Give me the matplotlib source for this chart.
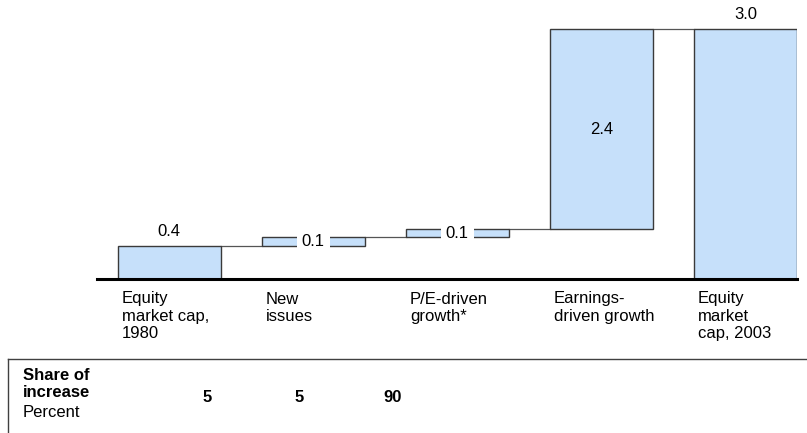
import numpy as np
import matplotlib
matplotlib.use("Agg")
from matplotlib import pyplot as plt

plt.rcParams["font.family"] = ["Liberation Sans", "DejaVu Sans"]

# ====================================================
# Data
# ====================================================
categories = ["Equity\nmarket cap,\n1980", "New\nissues", "P/E-driven\ngrowth*",
              "Earnings-\ndriven growth", "Equity\nmarket\ncap, 2003"]
steps = [0.4, 0.1, 0.1, 2.4]
total = 3.0
share_labels = ["5", "5", "90"]

# ====================================================
# Figure setup (pixel-based layout)
# ====================================================
W, H = 807, 433
fig = plt.figure(figsize=(W / 100, H / 100), dpi=100)

base_px = 279      # baseline, px from top
left_px, right_px = 97, 797
ax = fig.add_axes([left_px / W, (H - base_px) / H, (right_px - left_px) / W, base_px / H])

fill = "#c6e0fa"
edge = "#3a3a3a"
width = 0.715

# waterfall bottoms / heights
bottoms = [0.0]
for v in steps[:-1]:
    bottoms.append(bottoms[-1] + v)
bottoms = bottoms[:len(steps)]
heights = list(steps)
bottoms.append(0.0)
heights.append(total)
x = np.arange(len(categories))

ax.bar(x, heights, bottom=bottoms, width=width, color=fill, edgecolor=edge,
       linewidth=1.0, align="center", zorder=2)

# connectors
tops = [b + h for b, h in zip(bottoms, heights)]
for i in range(len(x) - 1):
    ax.plot([x[i] + width / 2, x[i + 1] - width / 2], [tops[i], tops[i]],
            color="#555555", lw=0.9, zorder=1)

# value labels
for i, (b, h) in enumerate(zip(bottoms, heights)):
    lbl = f"{h:.1f}"
    if i == 0 or i == len(x) - 1:
        ax.annotate(lbl, (x[i], b + h), xytext=(0, 5), textcoords="offset points",
                    ha="center", va="bottom", fontsize=12)
    elif h < 0.3:
        ax.text(x[i], b + h / 2, lbl, ha="center", va="center", fontsize=12, zorder=3,
                bbox=dict(boxstyle="square,pad=0.3", fc="white", ec="none"))
    else:
        ax.text(x[i], b + h / 2, lbl, ha="center", va="center", fontsize=12, zorder=3)

ax.set_xlim(-0.5, 4.358)
ax.set_ylim(0, 3.35)
ax.axis("off")
ax.plot([0, 1], [0, 0], transform=ax.transAxes, color="black", lw=2.2,
        clip_on=False, zorder=4)

# category labels
for i, c in enumerate(categories):
    ax.annotate(c, (x[i] - width / 2, 0), xytext=(3, -9), textcoords="offset points",
                ha="left", va="top", fontsize=12, linespacing=1.17, annotation_clip=False)

# ====================================================
# Share of increase table
# ====================================================
line_c = "#404040"
fig.add_artist(plt.Line2D([8 / W, 1], [1 - 359 / H] * 2, color=line_c, lw=1.0))
fig.add_artist(plt.Line2D([8 / W, 8 / W], [1 - 359 / H, 0], color=line_c, lw=1.0))

fig.text(23 / W, 1 - 368 / H, "Share of\nincrease", ha="left", va="top",
         fontsize=12, fontweight="bold", linespacing=1.17)
fig.text(23 / W, 1 - 405 / H, "Percent", ha="left", va="top", fontsize=12)

share_x = [207, 299, 393]
for xs, s in zip(share_x, share_labels):
    fig.text(xs / W, 1 - 397 / H, s, ha="center", va="center", fontsize=12,
             fontweight="bold")

fig.savefig("out.png", dpi=100)
